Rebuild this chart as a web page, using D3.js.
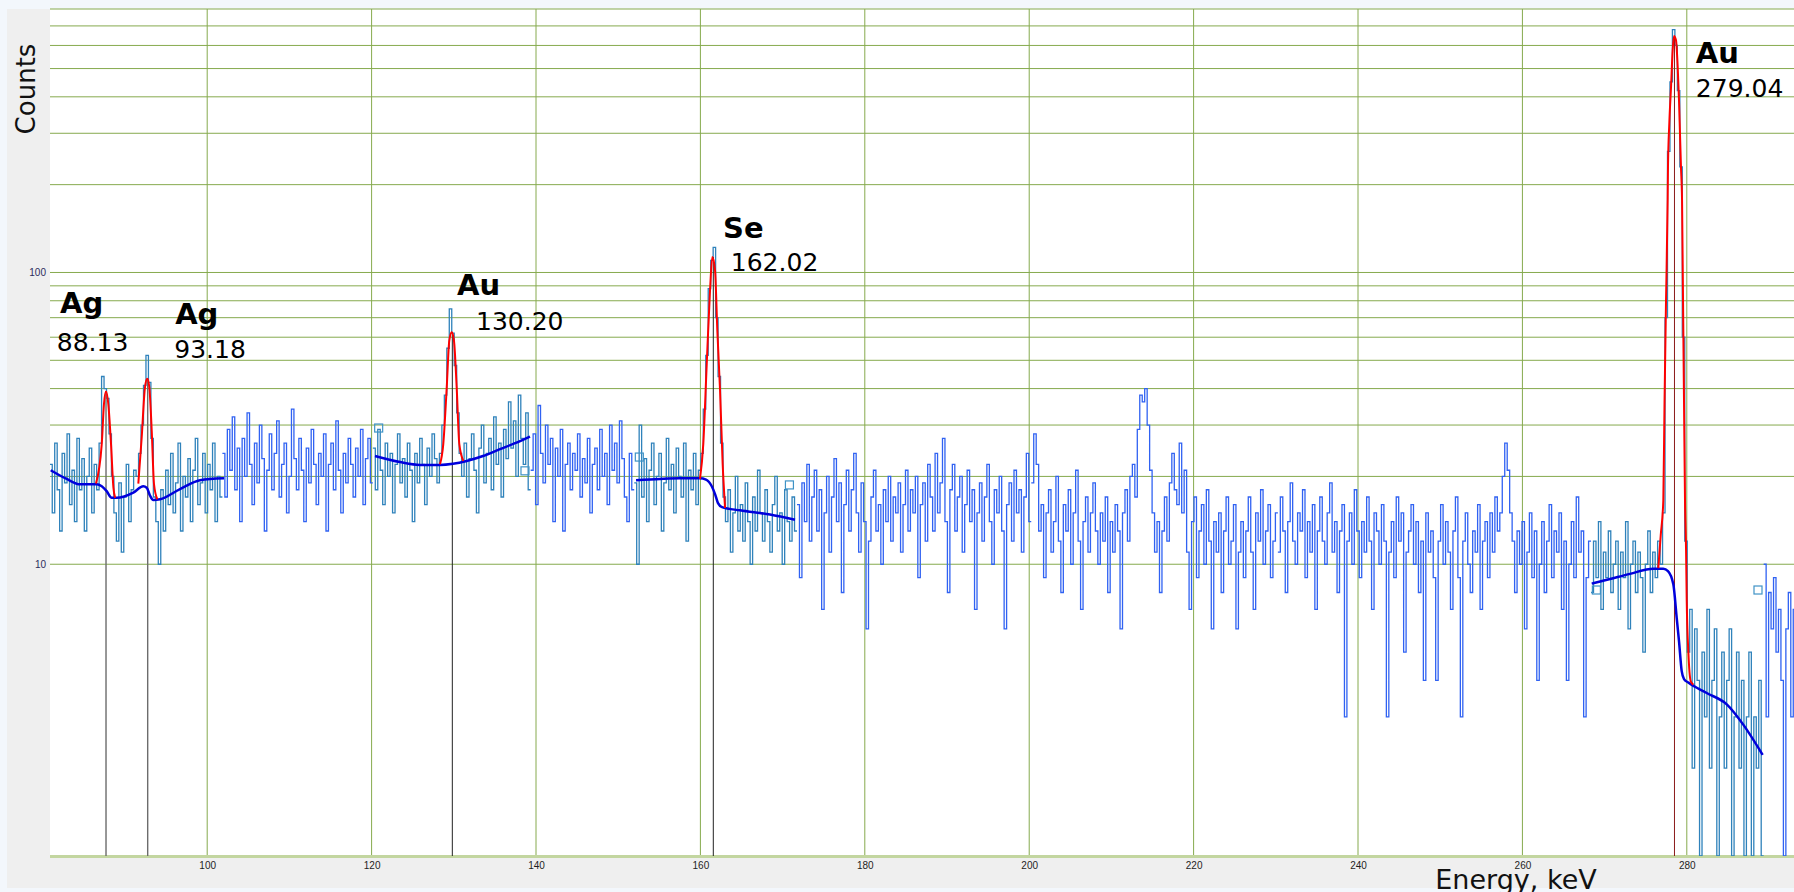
<!DOCTYPE html>
<html>
<head>
<meta charset="utf-8">
<script src="https://cdn.jsdelivr.net/npm/d3@7"></script>
<style>
  body { margin: 0; background: #fff; overflow: hidden; }
  svg { display: block; }
</style>
</head>
<body>
<svg width="1794" height="892"></svg>
<script>
// channel width, keV
const chWidth = 0.3

// spectrum counts, one value per 0.3 keV channel, split by region
const countsAg = [ // from 81.0 keV (ROI)
  22,15,26,18,13,24,19,28,16,21,
  14,27,18,23,13,20,25,15,22,18,
  26,44,40,37,28,20,15,12,19,11,
  17,22,14,18,21,20,24,30,41,52,
  42,27,17,14,10,18,13,21,16,24,
  15,19,26,13,20,17,23,14,21,27,
  16,19,24,15,22,18,26,14,20,17]
const counts102 = [ // from 102.0 keV
  24,17,29,21,32,18,25,14,27,20,
  33,22,16,26,19,30,23,13,21,28,
  18,24,31,17,22,26,15,20,34,23,
  18,27,21,14,25,19,29,22,16,24,
  20,28,13,22,26,18,31,21,15,24,
  19,27,22,17,25,20,29,16,23,27,
  19]
const countsAu130 = [ // from 120.3 keV (ROI)
  25,18,29,21,16,26,20,24,15,22,
  28,19,23,17,26,21,14,24,19,27,
  22,16,25,20,28,23,19,24,30,38,
  55,75,62,48,33,24,20,26,17,23,
  28,21,15,25,30,19,24,27,18,32,
  22,26,17,29,23,36,25,31,20,38,
  27,22,33,18]
const counts139 = [ // from 139.5 keV
  21,28,16,35,24,19,30,22,27,14,
  25,20,29,13,22,26,18,24,21,28,
  17,23,19,27,15,22,25,18,29,20,
  24,16,30,21,26,19,31,23,17,14,
  24,18]
const countsSe = [ // from 152.1 keV (ROI)
  19,10,30,17,23,14,21,26,16,20,
  24,13,19,27,18,22,15,25,20,17,
  26,12,21,18,24,16,21,24,34,52,
  88,110,122,70,44,26,17,14,18,11,
  15,20,13,16,12,19,14,10,17,13,
  21,15,12,18,14,11,16,20,13,15,
  10,18,14,12,17,13]
const counts172 = [ // from 171.9 keV
  16,9,19,14,22,12,17,21,13,18,
  7,15,20,11,17,23,14,19,8,16,
  21,13,18,24,15,11,19,14,6,12,
  17,21,13,16,10,18,14,20,12,17,
  15,19,11,16,21,13,18,15,20,9,
  16,19,12,22,17,13,24,15,19,27,
  14,8,18,22,13,17,20,11,16,21,
  14,18,7,15,19,12,17,22,14,10,
  18,15,20,13,6,16,19,12,21,15,
  18,11,17,24,14]
const counts200 = [ // from 200.4 keV
  19,28,22,13,16,9,15,18,11,14,
  20,12,8,16,13,18,10,15,21,12,
  7,14,17,11,15,19,13,10,15,12,
  17,8,14,11,16,13,6,15,18,12,
  20,22,17,29,38,36,40,30,21,15,
  11,14,8,13,17,12,19,24,18,16,
  26,15,21,11,7,14,17,9,13,16,
  10,18,12,6,14,11,15,8,13,17,
  10,12,16,6,11,14,9,13,17,11,
  7,15,12,18,10,13,16,9,12,15]
const counts230 = [ // from 230.4 keV
  11,17,13,8,14,19,12,10,15,13,
  18,9,14,11,16,7,13,17,12,10,
  15,19,11,14,8,13,16,3,12,15,
  10,18,13,9,14,11,17,12,7,15,
  13,10,16,12,3,11,14,9,17,12,
  15,5,11,13,16,10,14,8,12,4,
  15,11,13,9,4,12,16,10,14,11,
  7,13,17,9,3,12,15,10,8,13,
  11,16,7,12,14,9,15,11,17,13,
  15,20,26,21,15,12,8,13,10,14,
  6,11,15,9,13,4,10,14,8,12,
  16,9,13,11,15,7,12,4,10,14,
  9,17,11,13,3,9,12]
const countsAu279 = [ // from 268.5 keV (ROI)
  8,12,9,14,7,11,9,13,8,10,
  12,7,11,9,14,6,10,12,8,11,
  9,5,10,13,8,11,9,12,10,15,
  70,260,450,680,600,420,230,60,12,5,
  7,2,6,4,1,5,3,7,2,4,
  6,1,3,5,2,4,6,1,3,5,
  2,4,1,3,5,1,3,2,4,1]
const counts289 = [10,3,8,6,9,5,7,4,1,6,8,3,7,5] // from 289.5 keV

const segStarts = [81.0, 102.0, 120.3, 139.5, 152.1, 171.9, 200.4, 230.4, 268.5, 289.5]
const segCounts = [countsAg, counts102, countsAu130, counts139, countsSe, counts172, counts200, counts230, countsAu279, counts289]
const segIsRoi = [true, false, true, false, true, false, false, false, true, false]

// fitted backgrounds [keV, counts]
const bgAg = [[80.96,21.0],[82.91,19.6],[84.53,18.8],[86.56,18.8],[87.17,18.5],[87.77,17.8],[88.38,16.9],[88.99,16.9],
  [91.01,17.6],[92.23,18.5],[92.64,18.3],[93.04,17.2],[93.44,16.6],[94.26,16.7],[96.69,18.1],[99.12,19.4],[102.04,19.7]]
const bgAu130 = [[120.41,23.5],[123.45,22.4],[125.89,21.9],[128.32,21.9],[129.9,22.1],[131.57,22.6],[133.55,23.5],[135.62,24.8],[137.45,26.0],[139.27,27.4]]
const bgSe = [[152.17,19.4],[155.09,19.6],[157.52,19.7],[159.95,19.7],[160.68,19.5],[161.38,18.5],[161.78,17.4],[162.14,16.2],[162.63,15.7],[164.82,15.3],[168.47,14.8],[171.51,14.2]]
const bgAu279 = [[268.43,8.58],[270.66,8.9],[273.09,9.27],[275.92,9.66],[277.14,9.66],[277.71,9.48],[278.36,8.54],[278.77,6.55],[279.05,5.45],
  [279.38,4.30],[279.66,4.04],[280.19,3.93],[282.42,3.62],[284.86,3.31],[286.87,2.82],[289.23,2.22]]

// fitted peaks [keV, counts]
const fitAg88 = [[86.47,18.9],[87.17,25.8],[87.44,35.4],[87.69,39.1],[87.97,35.4],[88.30,25.8],[88.59,18.3],[88.80,16.9]]
const fitAg93 = [[91.62,18.9],[92.03,27.2],[92.43,40.4],[92.71,43.2],[92.96,40.4],[93.25,28.7],[93.53,18.8],[93.93,16.7]]
const fitAu130 = [[128.32,22.0],[128.72,25.8],[129.14,40.4],[129.45,58.4],[129.75,62.4],[130.02,58.4],[130.35,40.4],[130.67,25.8],[131.16,22.6]]
const fitSe = [[159.95,19.6],[160.35,25.8],[160.77,48.6],[161.17,86.8],[161.45,112.9],[161.78,101.6],[162.06,63.2],[162.39,39.4],[162.71,22.0],[163.0,15.6]]
const fitAu279 = [[276.53,9.7],[276.83,12.6],[277.14,16.5],[277.29,36],[277.47,80],[277.67,177],[277.71,230],[277.87,324],[278.08,432],
  [278.28,578],[278.44,646],[278.68,626],[278.89,507],[279.05,389],[279.17,299],[279.29,230],[279.42,177],[279.54,80],[279.66,36],
  [279.78,16.5],[279.91,11.1],[279.99,7.5],[280.19,5.0],[280.48,3.97],[280.79,3.87]]

// peak markers and annotations
const centroidE = [87.69, 92.76, 129.82, 161.57, 278.5]
const centroidTop = [39.1, 43.2, 62.4, 112.9, 646]
const peakSymbols = ['Ag', 'Ag', 'Au', 'Se', 'Au']
const peakEnergies = ['88.13', '93.18', '130.20', '162.02', '279.04']
const symbolAt = [[82.1,72.6],[96.1,66.6],[130.4,83.7],[162.75,131],[281.1,522]]
const energyAt = [[81.7,53.8],[96.0,50.9],[132.7,63.5],[163.7,100.8],[281.1,401]]
const roiMarks = [[120.86,29.3],[138.66,20.9],[152.57,23.3],[170.83,18.7],[269.0,8.16],[288.66,8.16]]

// axes
const xTicks = [100, 120, 140, 160, 180, 200, 220, 240, 260, 280]
const yTicks = [10, 100]
const yGrid = [10, 20, 30, 40, 50, 60, 70, 80, 90, 100, 200, 300, 400, 500, 600, 700, 800]

const svg = d3.select('svg')
const plot = { left: 50, top: 9, right: 1794, bottom: 856 }

const x = d3.scaleLinear().domain([80.876, 293.04]).range([plot.left, plot.right])
const y = d3.scaleLog().domain([1, 800]).range([plot.bottom, plot.top])

// backdrop
svg.append('rect').attr('width', 1794).attr('height', 892).attr('fill', '#f3f7fc')
svg.append('rect').attr('x', 7).attr('y', plot.top).attr('width', 1794 - 7).attr('height', 888 - plot.top).attr('fill', '#efefef')
svg.append('rect').attr('x', plot.left).attr('y', plot.top)
  .attr('width', plot.right - plot.left).attr('height', plot.bottom - plot.top).attr('fill', '#fff')

svg.append('clipPath').attr('id', 'clip')
  .append('rect').attr('x', plot.left).attr('y', plot.top)
  .attr('width', plot.right - plot.left).attr('height', plot.bottom - plot.top)

// grid
const grid = svg.append('g').attr('stroke', '#86aa4e').attr('stroke-width', 1)
grid.selectAll('.hg').data(yGrid).enter().append('line')
  .attr('x1', plot.left).attr('x2', plot.right)
  .attr('y1', d => y(d)).attr('y2', d => y(d))
grid.selectAll('.vg').data(xTicks).enter().append('line')
  .attr('y1', plot.top).attr('y2', plot.bottom)
  .attr('x1', d => x(d)).attr('x2', d => x(d))

svg.append('line')
  .attr('x1', plot.left).attr('x2', plot.right)
  .attr('y1', plot.bottom + 0.5).attr('y2', plot.bottom + 0.5)
  .attr('stroke', '#c3d6a0').attr('stroke-width', 3)

// axes labels
const xAxis = svg.append('g')
  .attr('transform', `translate(0,${plot.bottom})`)
  .call(d3.axisBottom(x).tickValues(xTicks).tickSize(0).tickPadding(6).tickFormat(d3.format('d')))
xAxis.select('.domain').remove()
xAxis.selectAll('text').attr('font-family', '"Liberation Sans", Arial, sans-serif').attr('font-size', 10).attr('fill', '#1e1e1e')

const yAxis = svg.append('g')
  .attr('transform', `translate(${plot.left},0)`)
  .call(d3.axisLeft(y).tickValues(yTicks).tickSize(0).tickPadding(4).tickFormat(d3.format('d')))
yAxis.select('.domain').remove()
yAxis.selectAll('text').attr('font-family', '"Liberation Sans", Arial, sans-serif').attr('font-size', 10).attr('fill', '#2c2c5c')

svg.append('text')
  .attr('transform', 'translate(35,89) rotate(-90)')
  .attr('text-anchor', 'middle')
  .attr('font-family', '"DejaVu Sans", sans-serif').attr('font-size', 26).attr('fill', '#111')
  .text('Counts')

svg.append('text')
  .attr('x', 1516).attr('y', 889)
  .attr('text-anchor', 'middle')
  .attr('font-family', '"DejaVu Sans", sans-serif').attr('font-size', 27).attr('fill', '#111')
  .text('Energy, keV')

// spectrum
const chart = svg.append('g').attr('clip-path', 'url(#clip)')

const stepLine = d3.line()
  .x(d => x(d[0]))
  .y(d => y(Math.max(d[1], 1)))
  .curve(d3.curveStep)

segStarts.forEach((start, s) => {
  const counts = segCounts[s]
  const pts = counts.map((c, i) => [start + i * chWidth, c])
  pts.unshift([start - chWidth / 2, counts[0]])
  pts.push([start + (counts.length - 0.5) * chWidth, counts[counts.length - 1]])
  chart.append('path')
    .datum(pts)
    .attr('d', stepLine)
    .attr('fill', 'none')
    .attr('stroke', segIsRoi[s] ? '#2f82bb' : '#3062f2')
    .attr('stroke-width', 1.3)
})

// centroid lines
chart.selectAll('.centroid').data(centroidE).enter().append('line')
  .attr('x1', d => x(d)).attr('x2', d => x(d))
  .attr('y1', (d, i) => y(centroidTop[i])).attr('y2', plot.bottom)
  .attr('stroke', (d, i) => i < 2 ? '#6c6c6c' : (i === 4 ? '#8a1a1a' : '#222'))
  .attr('stroke-width', (d, i) => i < 2 ? 1.4 : 1)

// background fits
const smooth = d3.line().x(d => x(d[0])).y(d => y(d[1])).curve(d3.curveMonotoneX)
chart.selectAll('.bg').data([bgAg, bgAu130, bgSe, bgAu279]).enter().append('path')
  .attr('d', smooth)
  .attr('fill', 'none').attr('stroke', '#0000dc').attr('stroke-width', 2.5)

// peak fits
chart.selectAll('.fit').data([fitAg88, fitAg93, fitAu130, fitSe, fitAu279]).enter().append('path')
  .attr('d', smooth)
  .attr('fill', 'none').attr('stroke', '#ff0000').attr('stroke-width', 2)

// ROI markers
chart.selectAll('.roi').data(roiMarks).enter().append('rect')
  .attr('x', d => x(d[0]) - 4).attr('y', d => y(d[1]) - 4)
  .attr('width', 8).attr('height', 8)
  .attr('fill', 'none').attr('stroke', '#3f93c6').attr('stroke-width', 1.2)

// annotations
svg.selectAll('.sym').data(peakSymbols).enter().append('text')
  .attr('x', (d, i) => x(symbolAt[i][0])).attr('y', (d, i) => y(symbolAt[i][1]))
  .attr('font-family', '"DejaVu Sans", sans-serif').attr('font-weight', 'bold').attr('font-size', 29).attr('fill', '#000')
  .text(d => d)

svg.selectAll('.val').data(peakEnergies).enter().append('text')
  .attr('x', (d, i) => x(energyAt[i][0])).attr('y', (d, i) => y(energyAt[i][1]))
  .attr('font-family', '"DejaVu Sans", sans-serif').attr('font-size', 25).attr('fill', '#000')
  .text(d => d)
</script>
</body>
</html>
